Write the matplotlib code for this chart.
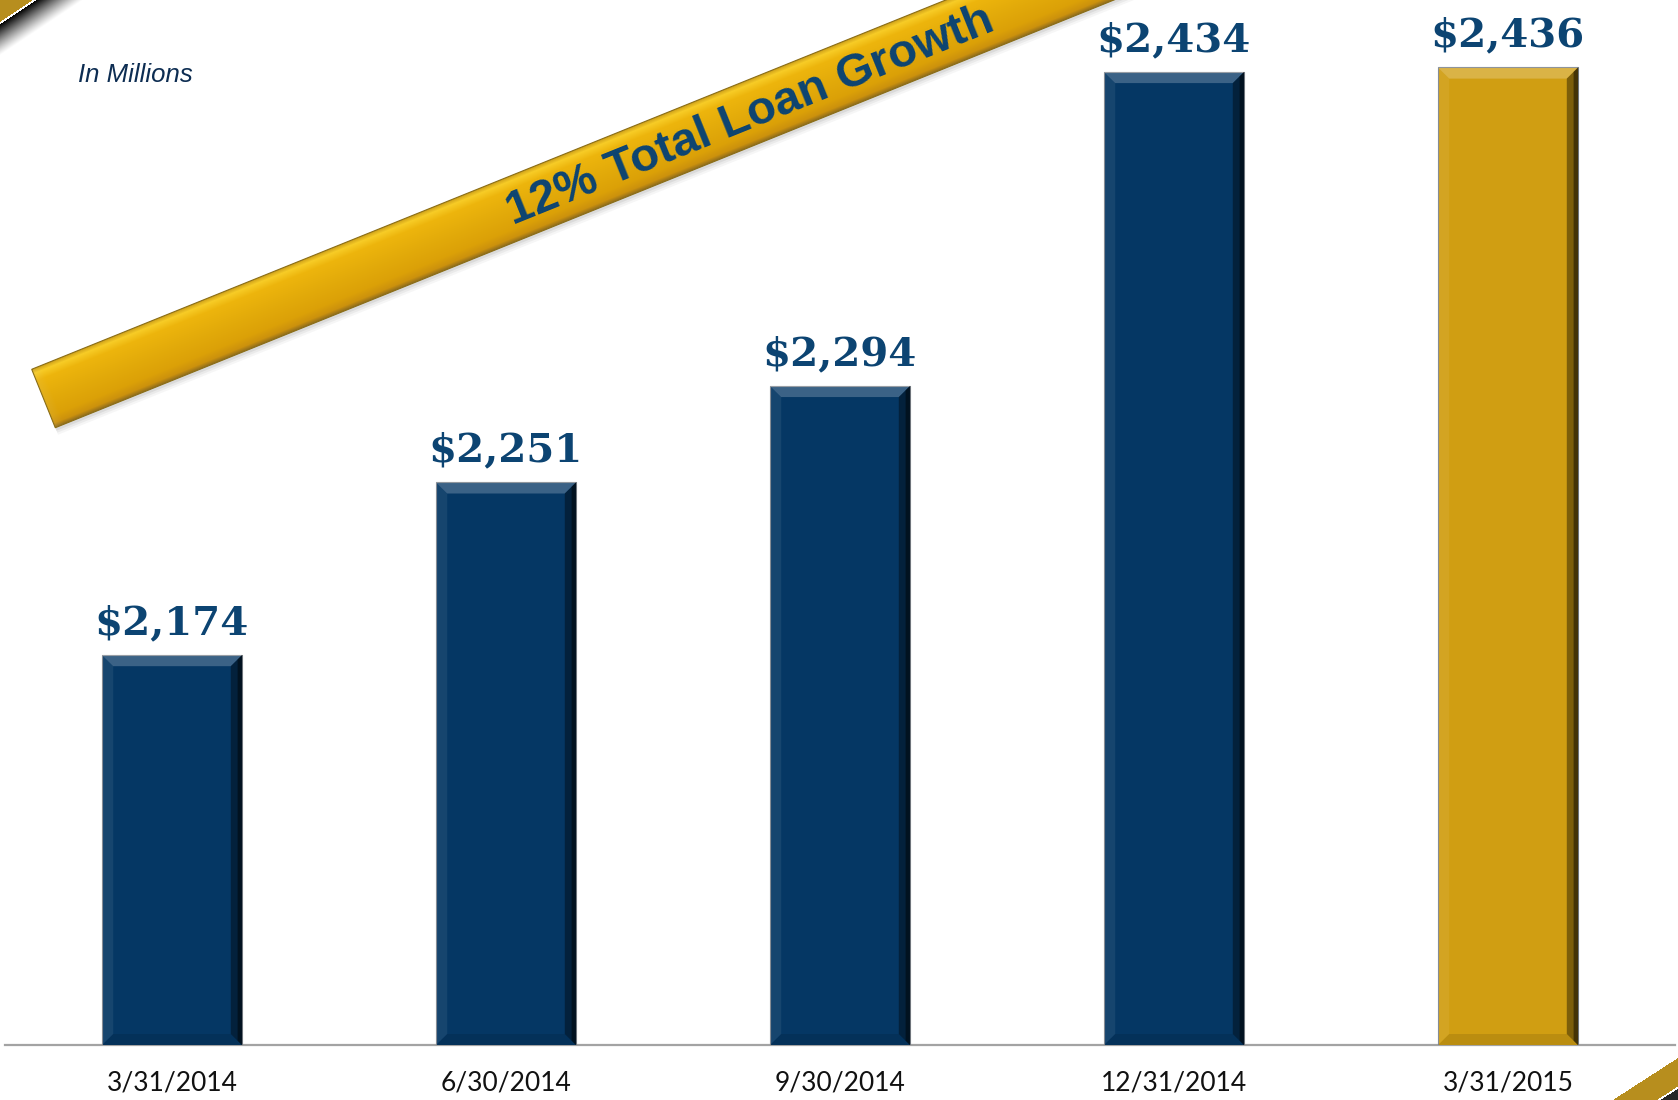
import numpy as np
import matplotlib.pyplot as plt
from matplotlib.patches import Polygon

# Total loans at quarter end, $ millions
dates = ['3/31/2014', '6/30/2014', '9/30/2014', '12/31/2014', '3/31/2015']
loans = [2174, 2251, 2294, 2434, 2436]
bar_colors = ['#053764', '#053764', '#053764', '#053764', '#D09E12']
growth_text = '12% Total Loan Growth'
units_text = 'In Millions'

W, H = 1678, 1100
NAVY_TEXT = '#0c4472'

fig = plt.figure(figsize=(W / 100, H / 100), dpi=100)
fig.patch.set_facecolor('white')

# main bar axes
ax = fig.add_axes([5 / W, 54.8 / H, 1670 / W, 1045.2 / H])
ax.set_xlim(-0.5, 4.5)
ax.set_ylim(2000, 2000 + 1045.2 / 2.2427)
x = np.arange(len(loans))
bw = 0.42
bars = ax.bar(x, loans, width=bw, color=bar_colors, edgecolor='#7d848c',
              linewidth=0.8, zorder=3)

# bevel shading on each bar
ex, ey = 0.034, 5.0
for b in bars:
    x0, x1 = b.get_x(), b.get_x() + b.get_width()
    y0, y1 = 2000, b.get_height()
    top = [(x0, y1), (x1, y1), (x1 - ex, y1 - ey), (x0 + ex, y1 - ey)]
    left = [(x0, y0), (x0, y1), (x0 + ex, y1 - ey), (x0 + ex, y0 + ey)]
    right = [(x1, y0), (x1, y1), (x1 - ex, y1 - ey), (x1 - ex, y0 + ey)]
    bottom = [(x0, y0), (x1, y0), (x1 - ex, y0 + ey), (x0 + ex, y0 + ey)]
    ax.add_patch(Polygon(top, closed=True, fc='white', alpha=0.22, lw=0, zorder=4))
    ax.add_patch(Polygon(left, closed=True, fc='white', alpha=0.07, lw=0, zorder=4))
    ax.add_patch(Polygon(right, closed=True, fc='black', alpha=0.40, lw=0, zorder=4))
    ax.add_patch(Polygon(bottom, closed=True, fc='black', alpha=0.10, lw=0, zorder=4))
    edge = [(x1, y0), (x1, y1), (x1 - ex * 0.4, y1 - ey * 0.4), (x1 - ex * 0.4, y0 + ey * 0.4)]
    ax.add_patch(Polygon(edge, closed=True, fc='black', alpha=0.45, lw=0, zorder=4))

for b, v in zip(bars, loans):
    ax.annotate(f'${v:,}', (b.get_x() + b.get_width() / 2, v),
                xytext=(0, 15), textcoords='offset points', ha='center',
                va='baseline', fontsize=29, fontweight='bold',
                family='DejaVu Serif', color=NAVY_TEXT, zorder=5)

ax.set_xticks(x)
ax.set_xticklabels(dates, fontsize=19, family='Lato', color='#111111')
ax.tick_params(axis='x', length=0, pad=18)
ax.set_yticks([])
for s in ['top', 'left', 'right']:
    ax.spines[s].set_visible(False)
ax.spines['bottom'].set_color('#a3a3a3')
ax.spines['bottom'].set_linewidth(1.6)
ax.set_facecolor('none')

# overlay in pixel coordinates for the banner and slide trim
ov = fig.add_axes([0, 0, 1, 1])
ov.set_xlim(0, W)
ov.set_ylim(H, 0)
ov.axis('off')
ov.patch.set_visible(False)

ang = np.deg2rad(22)
u = np.array([np.cos(ang), -np.sin(ang)])
n = np.array([np.sin(ang), np.cos(ang)])
p0 = np.array([43.5, 398.5])
half = 31.5
L = 1400
corners = [p0 - n * half, p0 - n * half + u * L, p0 + n * half + u * L, p0 + n * half]

# soft drop shadow under the banner
for off, a in [(7, 0.05), (5, 0.07), (3, 0.10)]:
    sh = [c + np.array([off * 0.4, off]) for c in corners]
    ov.add_patch(Polygon(sh, closed=True, fc='#555555', alpha=a, lw=0))

yy, xx = np.mgrid[0:H, 0:W] + 0.5
t = ((xx - p0[0]) * n[0] + (yy - p0[1]) * n[1]) / half  # -1 top edge, +1 bottom edge
s_along = (xx - p0[0]) * u[0] + (yy - p0[1]) * u[1]
stops = np.array([-1.0, -0.85, -0.6, 0.0, 0.6, 0.85, 1.0])
cols = np.array([[0.80, 0.62, 0.10], [0.97, 0.80, 0.15], [0.93, 0.71, 0.05],
                 [0.89, 0.67, 0.04], [0.86, 0.63, 0.03], [0.80, 0.57, 0.05],
                 [0.55, 0.42, 0.12]])
img = np.zeros((H, W, 3))
tc = np.clip(t, -1, 1)
for k in range(3):
    img[..., k] = np.interp(tc, stops, cols[:, k])
# bevel at the left end of the banner
endf = np.clip(s_along / 10.0, 0, 1)
img = img * (0.9 + 0.1 * endf[..., None]) + (1 - endf[..., None]) * 0.08
img = np.clip(img, 0, 1)
band = Polygon(corners, closed=True, fc='none', lw=0)
ov.add_patch(band)
im = ov.imshow(img, extent=(0, W, H, 0), interpolation='bilinear', zorder=2)
im.set_clip_path(band)
ov.add_patch(Polygon(corners, closed=True, fc='none', ec='#8a6d16', lw=0.8, zorder=3))

mid = p0 + u * 762
ov.text(mid[0], mid[1] + 3, growth_text, rotation=22, rotation_mode='anchor',
        ha='center', va='center', fontsize=34, fontweight='bold',
        family='Liberation Sans', color=NAVY_TEXT, zorder=4)

ov.text(78, 75, units_text, ha='left', va='center', fontsize=18.5,
        style='italic', family='Liberation Sans', color='#0d2d52', zorder=4)

# slide trim: top-left corner (transparent where empty)
gold = np.array([0.72, 0.56, 0.12, 1.0])
cy, cx = np.mgrid[0:80, 0:140] + 0.5
s = (cx * 22 + cy * 33) / np.hypot(22, 33)
corner = np.zeros((80, 140, 4))
corner[s < 18.3] = gold
blk = s >= 20.3
fade = np.clip((s - 20.3) / 26.0, 0, 1)
corner[blk, 3] = (1 - fade[blk]) ** 1.2
ov.imshow(corner, extent=(0, 140, 80, 0), interpolation='bilinear', zorder=2)

# slide trim: bottom-right corner
by, bx = np.mgrid[1040:H, 1590:W] + 0.5
s2 = ((W - bx) * 42 + (H - by) * 65) / np.hypot(42, 65)
trim = np.zeros(bx.shape + (4,))
trim[(s2 > 11.4) & (s2 < 35.3)] = gold
trim[s2 < 9.5] = np.array([0.15, 0.15, 0.15, 1.0])
ov.imshow(trim, extent=(1590, W, H, 1040), interpolation='bilinear', zorder=2)
ov.set_xlim(0, W)
ov.set_ylim(H, 0)

fig.savefig('out.png', dpi=100)
